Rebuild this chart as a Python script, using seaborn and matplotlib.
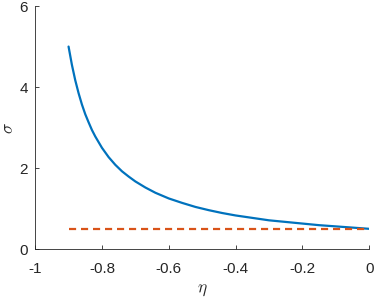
"""
sigma vs eta curve, MATLAB-like look
"""
import numpy as np
import pandas as pd
import matplotlib
matplotlib.use('Agg')
import matplotlib.pyplot as plt
import seaborn as sns

# values
eta = [-0.90, -0.89, -0.88, -0.87, -0.86, -0.85, -0.84, -0.83, -0.82, -0.80,
       -0.78, -0.76, -0.74, -0.72, -0.70, -0.67, -0.64, -0.60, -0.56, -0.52,
       -0.48, -0.44, -0.40, -0.35, -0.30, -0.25, -0.20, -0.15, -0.10, -0.05, 0.00]
sigma = [5.00, 4.55, 4.17, 3.85, 3.57, 3.33, 3.13, 2.94, 2.78, 2.50,
         2.27, 2.08, 1.92, 1.79, 1.67, 1.52, 1.39, 1.25, 1.14, 1.04,
         0.96, 0.89, 0.83, 0.77, 0.71, 0.67, 0.63, 0.59, 0.56, 0.53, 0.50]
ref_eta = [-0.90, 0.00]
ref_sigma = [0.50, 0.50]

xticks = [-1, -0.8, -0.6, -0.4, -0.2, 0]
xticklabels = ['-1', '-0.8', '-0.6', '-0.4', '-0.2', '0']
yticks = [0, 2, 4, 6]

sns.set_theme(style="white")
plt.rcParams['font.family'] = ['Liberation Sans', 'DejaVu Sans']
plt.rcParams['mathtext.fontset'] = 'cm'

curve = pd.DataFrame({'eta': eta, 'sigma': sigma})
ref = pd.DataFrame({'eta': ref_eta, 'sigma': ref_sigma})

fig = plt.figure(figsize=(3.74, 3.03), dpi=100)
ax = fig.add_axes([0.094, 0.178, 0.893, 0.802])

sns.lineplot(data=curve, x='eta', y='sigma', ax=ax, color='#0072BD', linewidth=1.6)
sns.lineplot(data=ref, x='eta', y='sigma', ax=ax, color='#D95319', linewidth=1.6,
             linestyle=(0, (3.2, 2.2)))

ax.set_xlim(-1, 0)
ax.set_ylim(0, 6)
ax.set_xticks(xticks)
ax.set_xticklabels(xticklabels)
ax.set_yticks(yticks)

for side in ['top', 'right']:
    ax.spines[side].set_visible(False)
for side in ['left', 'bottom']:
    ax.spines[side].set_color('#262626')
    ax.spines[side].set_linewidth(0.6)

ax.tick_params(direction='in', length=3, width=0.6, colors='#262626',
               labelsize=11, left=True, bottom=True)
ax.tick_params(axis='x', pad=9)
ax.tick_params(axis='y', pad=5)
ax.set_xlabel(r'$\eta$', fontsize=12.5, color='#262626', labelpad=5)
ax.set_ylabel(r'$\sigma$', fontsize=12.5, color='#262626', labelpad=2.5)

fig.savefig('out.png', dpi=100)
plt.close(fig)
